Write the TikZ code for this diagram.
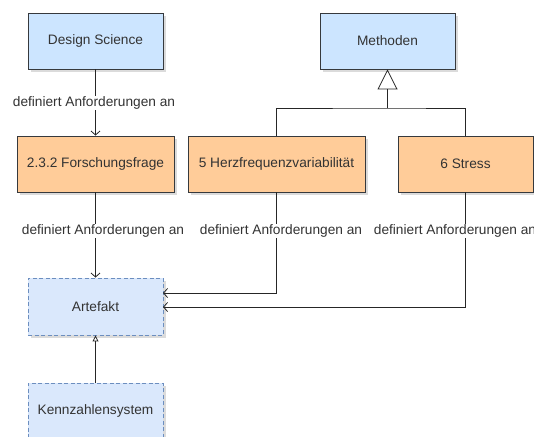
\documentclass[tikz,border=0pt]{standalone}
\usepackage{fontspec}
\setmainfont{Liberation Sans}
\usetikzlibrary{arrows.meta,shadows}
\definecolor{bluefill}{HTML}{CCE5FF}
\definecolor{orangefill}{HTML}{FFCC99}
\definecolor{artfill}{HTML}{DAE8FC}
\definecolor{artline}{HTML}{6C8EBF}
\definecolor{boxline}{HTML}{36393D}
\definecolor{txt}{HTML}{333333}
\tikzset{
  box/.style={draw=boxline, line width=0.9pt, minimum height=56pt, inner sep=0pt,
    text=txt, font=\fontsize{13.7}{16}\selectfont,
    drop shadow={shadow xshift=3pt, shadow yshift=-3pt, fill=black!28}},
  bluebox/.style={box, fill=bluefill},
  orangebox/.style={box, fill=orangefill},
  artbox/.style={box, draw=artline, fill=artfill, dashed, dash pattern=on 4pt off 2.5pt},
  lbl/.style={fill=white, inner sep=1pt, text=txt, font=\fontsize{13.7}{16}\selectfont},
  conn/.style={draw=black!85, line width=0.8pt},
  openarrow/.style={conn, -{Straight Barb[length=4pt,width=9pt,line width=0.8pt]}},
}
\begin{document}
\begin{tikzpicture}[x=1pt,y=-1pt]
\useasboundingbox (0,0) rectangle (534,436);
\begin{scope}
\clip (0,0) rectangle (534,436);
\node[bluebox, minimum width=135pt] (ds) at (95.5,41) {Design Science};
\node[bluebox, minimum width=135pt] (meth) at (387.5,41) {Methoden};
\node[orangebox, minimum width=157pt] (ff) at (95.5,164) {2.3.2 Forschungsfrage};
\node[orangebox, minimum width=177pt] (hrv) at (276.5,164) {5 Herzfrequenzvariabilität};
\node[orangebox, minimum width=135pt] (st) at (465.5,164) {6 Stress};
\node[artbox, minimum width=135pt, minimum height=57pt] (art) at (95.5,306.5) {Artefakt};
\node[artbox, minimum width=135pt] (kz) at (95.5,411) {Kennzahlensystem};

\coordinate (j) at (387.5,108);
\draw[conn] (hrv.north) |- (j) -| (st.north);
\draw[conn, -{Triangle[open, length=20pt, width=20pt, line width=0.8pt]}] (j) -- (meth.south);

\draw[openarrow] (ds.south) -- (ff.north);
\draw[openarrow] (ff.south) -- (art.north);
\coordinate (a1) at (163,293);
\coordinate (a2) at (163,307);
\draw[openarrow] (hrv.south) |- (a1);
\draw[openarrow] (st.south) |- (a2);
\draw[conn, -{Triangle[open, length=6pt, width=6pt, line width=0.8pt]}] (kz.north) -- (art.south);

\node[lbl] (l1) at (94,103) {definiert Anforderungen an};
\node[lbl] (l2) at (103,231) {definiert Anforderungen an};
\node[lbl] (l3) at (281,231) {definiert Anforderungen an};
\node[lbl] (l4) at (455,231) {definiert Anforderungen an};
\end{scope}
\end{tikzpicture}
\end{document}
